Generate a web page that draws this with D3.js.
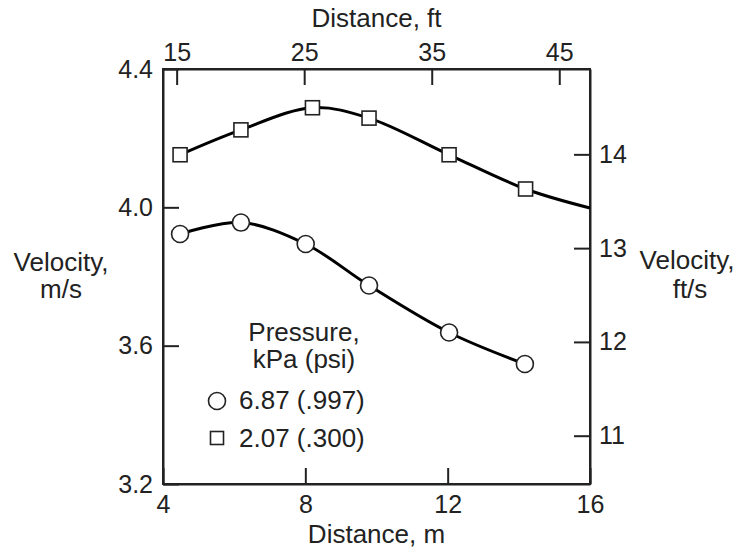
<!doctype html>
<html>
<head>
    <meta charset="utf-8">
    <title>Velocity vs distance</title>
    <style>
        body { margin: 0; padding: 0; background: #fff; }
        svg text { font-family: "Liberation Sans", Arial, Helvetica, sans-serif; fill: #222; }
        .axis path, .axis line { stroke: #222; stroke-width: 2; }
    </style>
</head>
<body>
    <svg id="chart" width="738" height="552"></svg>

    <script src="https://cdn.jsdelivr.net/npm/d3@7"></script>
    <script>
        // data
        var circleDist = [4.48, 6.19, 8.01, 9.79, 12.04, 14.17];
        var circleVel = [3.923, 3.956, 3.894, 3.774, 3.638, 3.547];
        var squareDist = [4.48, 6.19, 8.20, 9.79, 12.04, 14.19];
        var squareVel = [4.152, 4.224, 4.288, 4.258, 4.152, 4.053];
        // where the fitted square curve leaves the frame
        var squareEndDist = 16;
        var squareEndVel = 3.998;

        var bottomTicks = [4, 8, 12, 16];
        var leftTicks = [3.2, 3.6, 4.0, 4.4];
        var topTicks = [15, 25, 35, 45];
        var rightTicks = [11, 12, 13, 14];
        var legendLabels = ["6.87 (.997)", "2.07 (.300)"];

        var margin = {top: 69, right: 148, bottom: 68, left: 163},
            width = 738 - margin.left - margin.right,
            height = 552 - margin.top - margin.bottom;

        var svg = d3.select("#chart");
        var g = svg.append("g")
            .attr("transform", "translate(" + margin.left + "," + margin.top + ")");

        var x = d3.scaleLinear().domain([4, 16]).range([0, width]);
        var y = d3.scaleLinear().domain([3.2, 4.4]).range([height, 0]);
        // secondary axes as drawn in the original (not exact conversions)
        var xFt = d3.scaleLinear().domain([13.93, 47.41]).range([0, width]);
        var yFt = d3.scaleLinear().domain([10.485, 14.91]).range([height, 0]);

        var tick = 16;

        var axB = g.append("g").attr("class", "axis")
            .attr("transform", "translate(0," + height + ")")
            .call(d3.axisBottom(x).tickValues(bottomTicks).tickSizeInner(-tick).tickSizeOuter(0).tickPadding(11).tickFormat(d3.format("d")));
        var axL = g.append("g").attr("class", "axis")
            .call(d3.axisLeft(y).tickValues(leftTicks).tickSizeInner(-tick).tickSizeOuter(0).tickPadding(10).tickFormat(d3.format(".1f")));
        var axT = g.append("g").attr("class", "axis")
            .call(d3.axisTop(xFt).tickValues(topTicks).tickSizeInner(-tick).tickSizeOuter(0).tickPadding(8).tickFormat(d3.format("d")));
        var axR = g.append("g").attr("class", "axis")
            .attr("transform", "translate(" + width + ",0)")
            .call(d3.axisRight(yFt).tickValues(rightTicks).tickSizeInner(-tick).tickSizeOuter(0).tickPadding(9).tickFormat(d3.format("d")));

        [axB, axL, axT, axR].forEach(function(a) {
            a.selectAll("text").style("font-size", "25px").attr("fill", "#222");
        });

        // frame
        g.append("rect")
            .attr("width", width).attr("height", height)
            .attr("fill", "none").attr("stroke", "#222").attr("stroke-width", 2);

        // curves
        var line = d3.line()
            .x(function(d) { return x(d[0]); })
            .y(function(d) { return y(d[1]); })
            .curve(d3.curveCatmullRom.alpha(0.5));

        var circlePts = circleDist.map(function(d, i) { return [d, circleVel[i]]; });
        var squarePts = squareDist.map(function(d, i) { return [d, squareVel[i]]; });

        g.append("path")
            .attr("d", line(circlePts))
            .attr("fill", "none").attr("stroke", "#000").attr("stroke-width", 3);
        g.append("path")
            .attr("d", line(squarePts.concat([[squareEndDist, squareEndVel]])))
            .attr("fill", "none").attr("stroke", "#000").attr("stroke-width", 3);

        // markers
        g.selectAll(".circ")
            .data(circlePts)
            .enter().append("circle")
            .attr("class", "circ")
            .attr("cx", function(d) { return x(d[0]); })
            .attr("cy", function(d) { return y(d[1]); })
            .attr("r", 8.5)
            .attr("fill", "#fff").attr("stroke", "#222").attr("stroke-width", 1.6);

        var sq = 14;
        g.selectAll(".sq")
            .data(squarePts)
            .enter().append("rect")
            .attr("class", "sq")
            .attr("x", function(d) { return x(d[0]) - sq / 2; })
            .attr("y", function(d) { return y(d[1]) - sq / 2; })
            .attr("width", sq).attr("height", sq)
            .attr("fill", "#fff").attr("stroke", "#222").attr("stroke-width", 1.6);

        // axis titles
        svg.append("text")
            .attr("x", margin.left + width / 2).attr("y", 27)
            .attr("text-anchor", "middle").style("font-size", "26px")
            .text("Distance, ft");
        svg.append("text")
            .attr("x", margin.left + width / 2).attr("y", 543)
            .attr("text-anchor", "middle").style("font-size", "26px")
            .text("Distance, m");

        var leftTitle = svg.append("text")
            .attr("text-anchor", "middle").style("font-size", "26px");
        leftTitle.append("tspan").attr("x", 61).attr("y", 271).text("Velocity,");
        leftTitle.append("tspan").attr("x", 61).attr("y", 298).text("m/s");

        var rightTitle = svg.append("text")
            .attr("text-anchor", "middle").style("font-size", "26px");
        rightTitle.append("tspan").attr("x", 687).attr("y", 269).text("Velocity,");
        rightTitle.append("tspan").attr("x", 690).attr("y", 298).text("ft/s");

        // legend
        var legend = svg.append("g");
        var legTitle = legend.append("text")
            .attr("text-anchor", "middle").style("font-size", "26px");
        legTitle.append("tspan").attr("x", 304).attr("y", 341).text("Pressure,");
        legTitle.append("tspan").attr("x", 304).attr("y", 368).text("kPa (psi)");

        legend.append("circle")
            .attr("cx", 217).attr("cy", 401).attr("r", 8.5)
            .attr("fill", "#fff").attr("stroke", "#222").attr("stroke-width", 1.6);
        legend.append("rect")
            .attr("x", 217 - 6.5).attr("y", 438 - 6.5).attr("width", 13).attr("height", 13)
            .attr("fill", "#fff").attr("stroke", "#222").attr("stroke-width", 1.6);

        legend.selectAll(".legtext")
            .data(legendLabels)
            .enter().append("text")
            .attr("class", "legtext")
            .attr("x", 239)
            .attr("y", function(d, i) { return 409 + i * 38; })
            .style("font-size", "26px")
            .text(function(d) { return d; });
    </script>
</body>
</html>
